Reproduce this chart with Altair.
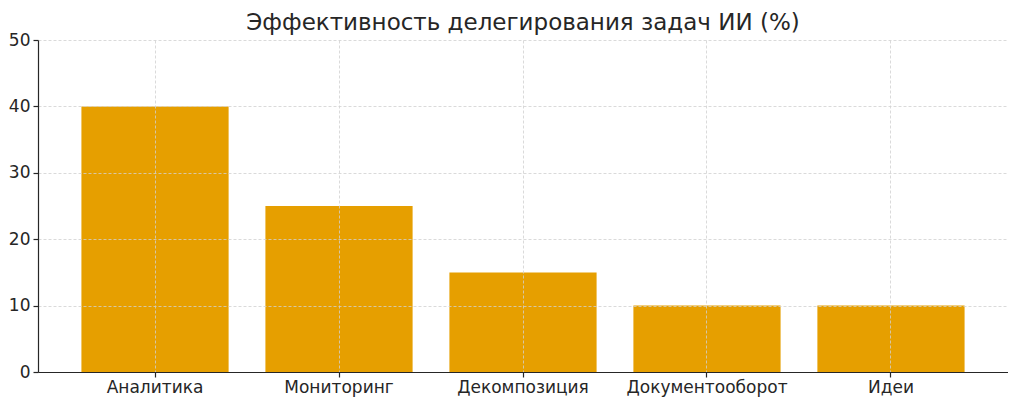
import altair as alt
import pandas as pd

categories = ["Аналитика", "Мониторинг", "Декомпозиция", "Документооборот", "Идеи"]
values = [40, 25, 15, 10, 10]
y_ticks = [0, 10, 20, 30, 40, 50]

df = pd.DataFrame({"task": categories, "value": values})

font = "DejaVu Sans"

chart = alt.Chart(df).mark_bar(color="#E69F00").encode(
    x=alt.X("task:N", sort=categories, title=None,
            scale=alt.Scale(paddingInner=0.2, paddingOuter=0.236),
            axis=alt.Axis(labelAngle=0, labelFontSize=17, labelFont=font, labelColor="#262626",
                          domainColor="#262626", domainWidth=1.2, tickColor="#262626",
                          tickSize=5, tickWidth=1.2, bandPosition=0.5,
                          grid=True, gridColor="#d0d0d0", gridDash=[3, 2], gridWidth=0.8,
                          labelPadding=2, zindex=1)),
    y=alt.Y("value:Q", title=None,
            scale=alt.Scale(domain=[0, 50], nice=False),
            axis=alt.Axis(values=y_ticks, labelFontSize=17, labelFont=font, labelColor="#262626",
                          domainColor="#262626", domainWidth=1.2, tickColor="#262626",
                          tickSize=5, tickWidth=1.2,
                          grid=True, gridColor="#d0d0d0", gridDash=[3, 2], gridWidth=0.8,
                          labelPadding=3, zindex=1)),
).properties(
    width=970,
    height=332,
    title=alt.TitleParams("Эффективность делегирования задач ИИ (%)", fontSize=23, font=font,
                          fontWeight="normal", color="#262626", anchor="middle", offset=-4),
    autosize=alt.AutoSizeParams(type="none"),
    padding={"left": 30, "top": 32, "right": 0, "bottom": 30},
).configure_view(stroke=None)

chart.save("out.html", embed_options={"renderer": "svg", "actions": False})
